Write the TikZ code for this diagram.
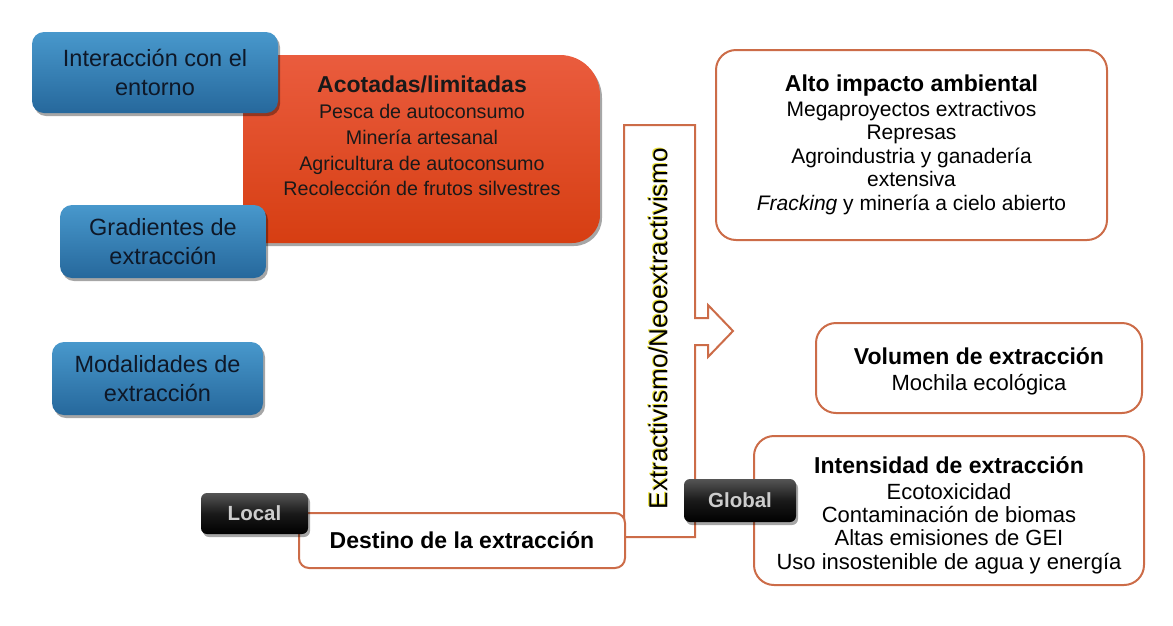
\documentclass[tikz,border=0pt]{standalone}
\usepackage{fontspec}
\setmainfont{Liberation Sans}
\usetikzlibrary{shadows}
\definecolor{blueT}{RGB}{72,152,204}
\definecolor{blueB}{RGB}{38,104,156}
\definecolor{navy}{RGB}{14,24,40}
\definecolor{oraT}{RGB}{234,92,62}
\definecolor{oraB}{RGB}{214,62,18}
\definecolor{brd}{RGB}{204,108,72}
\definecolor{grayT}{RGB}{85,85,85}
\definecolor{lbl}{RGB}{205,205,205}
\definecolor{glow}{RGB}{235,225,60}
\tikzset{
  shad/.style={drop shadow={shadow xshift=2pt,shadow yshift=-3pt,opacity=0.35,fill=black}},
  bluebox/.style={rounded corners=12pt,top color=blueT,bottom color=blueB,shad,
    align=center,text=navy,inner sep=0pt,font=\fontsize{23.5}{29.5}\selectfont},
  blackbox/.style={rounded corners=6pt,top color=grayT,bottom color=black,middle color=black!90,shad,
    text=lbl,inner sep=0pt,font=\fontsize{20.5}{24}\selectfont\bfseries},
  whitebox/.style={rounded corners=20pt,draw=brd,line width=2pt,fill=white,align=center,
    inner sep=0pt,text=black,font=\fontsize{21}{23.5}\selectfont},
  vtext/.style={rotate=90,font=\fontsize{26}{28}\selectfont}
}
\begin{document}
\begin{tikzpicture}[x=1pt,y=-1pt]
\useasboundingbox (0,0) rectangle (1173,625);
% orange box
\path[top color=oraT,bottom color=oraB,shad]
  (243,243) [rounded corners=8pt] -- (243,55) [rounded corners=40pt] -- (600,55)
  [rounded corners=28pt] -- (600,243) [rounded corners=8pt] -- cycle;
\node[align=center,text=black!90,font=\fontsize{19.7}{25.7}\selectfont] (acot) at (422,136)
  {{\fontsize{23}{26}\selectfont\bfseries Acotadas/limitadas}\\[0.5pt]
   Pesca de autoconsumo\\ Minería artesanal\\ Agricultura de autoconsumo\\
   Recolección de frutos silvestres};
% blue boxes
\node[bluebox,minimum width=246pt,minimum height=81pt] (inter) at (155,72.5)
  {Interacción con el\\ entorno};
\node[bluebox,minimum width=206pt,minimum height=73pt] (grad) at (163,241.5)
  {Gradientes de\\ extracción};
\node[bluebox,minimum width=211pt,minimum height=73pt] (moda) at (157.5,378.5)
  {Modalidades de\\ extracción};
% vertical arrow
\coordinate (atop) at (624,125);
\draw[brd,line width=2pt,fill=white,line join=miter]
  (atop) -- (695,125) -- (695,318) -- (708,318) -- (708,305) -- (733,331)
  -- (708,357) -- (708,345) -- (695,345) -- (695,537) -- (624,537) -- cycle;
\node[vtext,text=glow] at (656.9,327.6) {Extractivismo/Neoextractivismo};
\node[vtext,text=black] (ext) at (658,328.5) {Extractivismo/Neoextractivismo};
% destino
\node[whitebox,rounded corners=10pt,minimum width=326pt,minimum height=55pt,font=\fontsize{23}{26}\selectfont\bfseries] (dest) at (462,540.5)
  {Destino de la extracción};
\node[blackbox,minimum width=107pt,minimum height=41pt] (local) at (254.5,513.5) {Local};
% right boxes
\node[whitebox,minimum width=391pt,minimum height=190pt] (alto) at (911.5,145)
  {{\fontsize{23}{26}\selectfont\bfseries Alto impacto ambiental}\\[1pt]
   Megaproyectos extractivos\\ Represas\\ Agroindustria y ganadería\\ extensiva\\
   \textit{Fracking} y minería a cielo abierto};
\node[whitebox,minimum width=326pt,minimum height=90pt,font=\fontsize{22}{25}\selectfont] (vol) at (979,368)
  {\raisebox{-4pt}[\height][\depth]{\begin{tabular}{@{}c@{}}{\fontsize{23}{26}\selectfont\bfseries Volumen de extracción}\\[1pt]
   Mochila ecológica\end{tabular}}};
\node[whitebox,minimum width=390pt,minimum height=149pt,font=\fontsize{22}{23.3}\selectfont] (inten) at (949,510.5)
  {\raisebox{-6pt}[\height][\depth]{\begin{tabular}{@{}c@{}}{\fontsize{23}{26}\selectfont\bfseries Intensidad de extracción}\\[2pt]
   Ecotoxicidad\\ Contaminación de biomas\\ Altas emisiones de GEI\\
   Uso insostenible de agua y energía\end{tabular}}};
\node[blackbox,minimum width=112pt,minimum height=43pt] (global) at (740,500.5) {Global};
\end{tikzpicture}
\end{document}
